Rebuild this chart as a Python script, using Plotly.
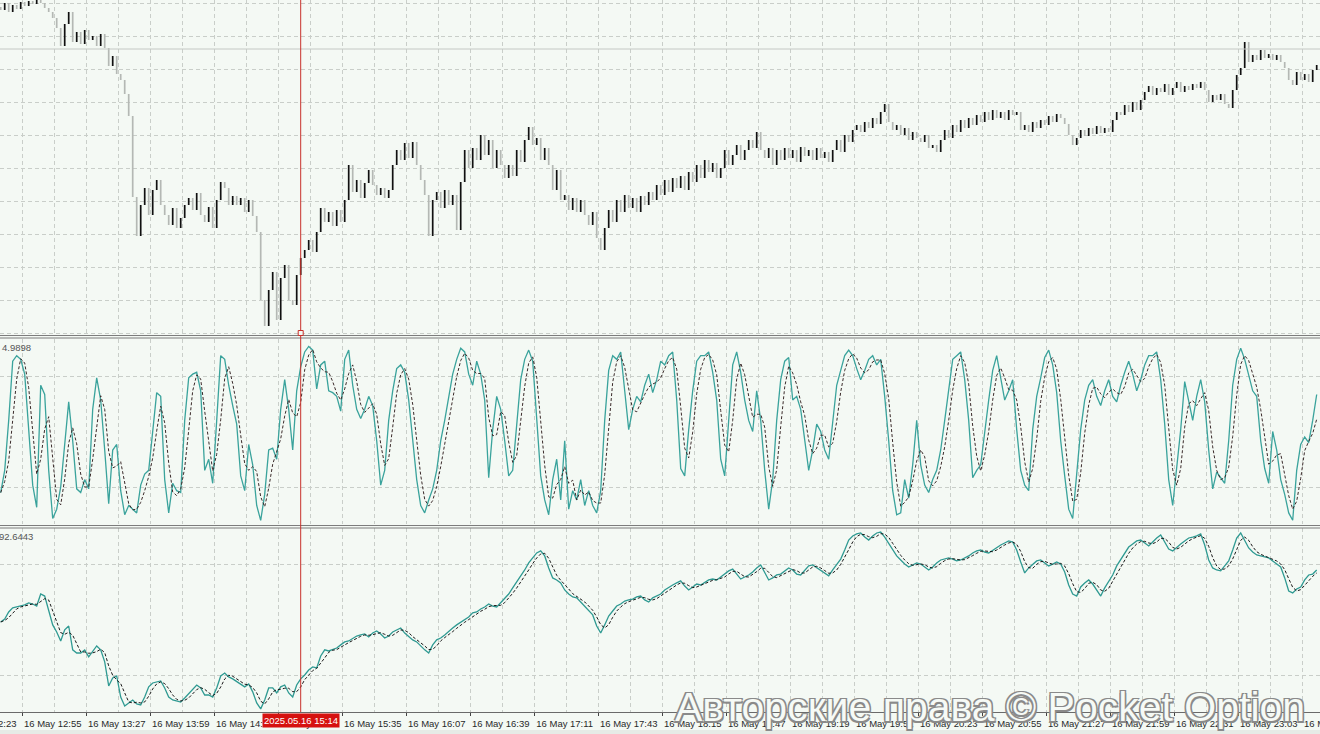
import pandas as pd
import plotly.graph_objects as go

# ---------------- data ----------------
# closes of 2-minute candles, in price points
close_pts = [
    330, 337, 328, 335, 331, 338, 334, 339, 336, 340, 337, 332,
    328, 322, 312, 294, 316, 328,
    298, 308, 296, 310, 300, 304, 294, 306,
    292, 274, 284, 266, 260, 246, 224,
    143, 104, 135,
    152, 125, 150, 160, 135,
    125, 115, 132, 112, 122, 135,
    142, 130, 147, 125, 118, 133, 112,
    140, 158, 152, 135,
    144, 135, 142, 128, 140, 124, 108,
    40,
    14, 50, 68, 20, 62, 75, 40, 35, 65, 82,
    90, 100, 88, 108, 132, 118, 128, 114, 130, 118,
    140, 175,
    148, 160, 142, 157,
    170,
    155, 145, 152, 142, 150,
    175, 190, 180, 197,
    182, 198,
    175, 160, 145,
    104, 140,
    148, 132, 150, 135, 145,
    110,
    158, 190,
    172, 192, 180,
    205,
    185, 200, 172, 190, 175,
    162, 175, 164,
    190, 178, 200,
    213,
    195, 202, 180, 192,
    175, 150, 170, 140,
    145, 130, 142, 128, 140, 125,
    115, 128, 102, 90,
    112, 130, 118, 140, 128,
    145, 132, 142, 128, 144, 135, 148, 140, 155, 145,
    160, 148, 162, 152, 164, 150, 168,
    158, 175, 162, 180, 168, 177, 162, 172,
    190, 175, 185, 195, 180, 190,
    200, 192, 208, 190,
    182, 192, 175, 190, 180, 192, 182,
    190, 178, 193, 184, 190, 180, 192, 182, 188, 178,
    190, 200, 188, 205, 198,
    210, 215, 208, 218, 212, 222, 216, 228, 236,
    218, 210, 215,
    205, 212, 200, 208, 202, 198, 205, 192,
    195, 188,
    200, 210, 202, 215, 208, 220, 212, 222,
    215, 225, 218, 228, 220, 230, 222, 228, 220, 230,
    225, 228,
    210, 215, 208, 218, 212,
    220, 215, 224, 218, 226, 222, 216,
    205, 195, 202,
    210, 204, 212, 206, 214, 207, 212, 208,
    220, 228,
    225, 235, 228, 238, 230, 240,
    248, 254, 245, 252,
    248, 256, 245, 252, 258, 248, 254, 250, 256, 252, 258,
    250, 238, 245, 240, 246, 236, 232,
    250, 265, 272,
    298,
    278, 285, 280, 290, 282, 286, 280, 285, 278,
    272, 260, 255,
    268, 260, 266, 258, 270, 275,
]
first_open = 333
price_line = 291

# stochastic (fast) %K, panel 2
stoch_k = [
    17, 29, 56, 88, 91, 89, 81, 51, 21, 9, 75, 70, 29, 3, 8, 20, 45, 66, 45, 19,
    17, 24, 19, 62, 79, 67, 40, 11, 40, 43, 18, 5, 10, 8, 6, 21, 27, 29, 51, 71,
    69, 24, 6, 22, 18, 17, 56, 79, 81, 82, 72, 29, 35, 22, 56, 91, 89, 75, 64, 54,
    26, 18, 43, 32, 10, 2, 16, 40, 41, 35, 62, 78, 62, 40, 72, 85, 93, 96, 94, 73,
    86, 88, 72, 71, 69, 61, 89, 94, 75, 62, 57, 62, 69, 64, 45, 21, 29, 56, 72, 84,
    86, 82, 67, 45, 24, 10, 6, 13, 19, 29, 45, 56, 69, 81, 89, 95, 93, 81, 75, 88,
    81, 67, 25, 51, 69, 62, 45, 26, 29, 56, 78, 89, 94, 88, 56, 26, 13, 5, 24, 35,
    13, 45, 8, 18, 13, 24, 10, 18, 10, 6, 18, 56, 83, 91, 89, 93, 72, 51, 62, 69,
    66, 75, 81, 71, 78, 88, 86, 91, 93, 67, 30, 26, 51, 72, 88, 91, 91, 93, 82, 67,
    35, 26, 56, 86, 93, 82, 67, 56, 50, 72, 56, 29, 8, 24, 56, 78, 88, 90, 67, 69,
    62, 45, 29, 40, 54, 50, 40, 35, 56, 75, 83, 91, 94, 91, 84, 78, 83, 89, 91, 86,
    89, 69, 45, 18, 5, 6, 24, 14, 32, 56, 32, 21, 17, 24, 29, 40, 56, 72, 89, 91,
    93, 78, 56, 25, 29, 32, 51, 67, 83, 91, 79, 67, 72, 78, 51, 29, 21, 18, 51, 69,
    79, 90, 94, 86, 71, 45, 26, 8, 3, 29, 51, 67, 75, 78, 69, 64, 72, 78, 69, 66,
    75, 82, 88, 81, 72, 78, 86, 91, 91, 93, 78, 54, 24, 10, 29, 51, 77, 67, 56, 69,
    78, 66, 40, 19, 28, 25, 22, 45, 75, 89, 95, 89, 81, 72, 69, 45, 30, 22, 50, 40,
    24, 16, 6, 2, 29, 43, 47, 44, 56, 70,
]
stoch_label = "4.9898"

# slow oscillator %K, panel 3
slow_k = [
    49.2, 50.8, 54.6, 56.8, 57.3, 57.8, 58.4, 59.5, 58.9, 57.8, 64.3, 63.2, 55.7, 47.6, 43.8, 38.9,
    44.9, 47.0, 34.1, 32.4, 32.4, 34.1, 30.3, 33.0, 36.2, 34.1, 27.6, 14.6, 18.9, 20.0, 8.6, 3.8,
    5.4, 7.0, 4.9, 4.3, 8.6, 14.1, 16.2, 16.8, 17.3, 13.5, 8.6, 7.0, 6.5, 5.9, 8.1, 10.3,
    12.4, 15.1, 13.5, 9.7, 9.7, 8.6, 13.5, 20.0, 21.6, 19.5, 18.4, 16.8, 15.7, 14.1, 15.7, 11.4,
    5.4, 2.2, 7.0, 13.5, 13.5, 10.8, 14.1, 15.1, 10.8, 8.6, 15.1, 18.4, 20.5, 23.2, 24.9, 24.3,
    30.8, 34.1, 33.5, 34.1, 35.1, 36.8, 38.4, 38.9, 40.5, 41.6, 42.2, 42.7, 41.1, 43.2, 44.3, 42.7,
    40.5, 41.6, 43.8, 44.9, 45.9, 43.2, 41.1, 39.5, 38.4, 36.2, 34.1, 32.4, 36.8, 39.5, 40.5, 42.2,
    43.8, 45.9, 47.6, 49.2, 50.3, 51.9, 54.1, 54.6, 56.2, 57.3, 58.9, 57.8, 57.3, 59.5, 62.2, 64.3,
    67.6, 70.8, 73.5, 77.3, 81.1, 83.8, 86.5, 87.6, 84.9, 78.4, 73.0, 71.9, 70.3, 66.5, 64.3, 62.7,
    62.2, 60.0, 57.8, 55.7, 53.0, 47.0, 43.2, 47.6, 52.4, 55.1, 57.8, 58.9, 60.5, 61.1, 61.6, 62.7,
    63.2, 61.1, 60.0, 62.2, 63.2, 64.3, 66.5, 68.1, 69.2, 70.3, 71.4, 68.6, 66.5, 68.1, 69.7, 69.2,
    70.8, 71.9, 72.4, 71.9, 73.5, 75.1, 76.8, 77.8, 75.1, 72.4, 73.5, 74.6, 76.2, 78.4, 80.0, 76.2,
    71.9, 73.0, 74.6, 75.1, 76.8, 78.4, 77.3, 75.1, 74.6, 77.3, 79.5, 80.0, 78.4, 76.8, 75.7, 74.1,
    77.3, 80.5, 83.2, 88.1, 93.5, 95.7, 96.8, 97.3, 95.1, 93.5, 95.7, 97.3, 97.8, 95.1, 91.9, 88.1,
    84.9, 82.7, 80.5, 78.9, 80.0, 81.1, 80.5, 78.9, 77.3, 78.9, 81.1, 82.7, 83.2, 83.8, 83.2, 82.2,
    82.7, 83.8, 84.9, 86.5, 87.6, 88.1, 87.0, 86.5, 88.1, 89.7, 90.8, 91.9, 93.0, 92.4, 88.1, 81.6,
    75.7, 78.4, 80.5, 82.2, 82.7, 81.1, 79.5, 80.5, 81.6, 80.5, 76.2, 69.2, 64.3, 63.2, 68.1, 70.3,
    71.9, 69.7, 66.5, 63.2, 67.6, 71.4, 74.6, 79.5, 82.7, 86.5, 89.7, 91.4, 93.0, 93.5, 91.9, 90.3,
    92.4, 94.6, 96.2, 92.4, 88.6, 87.6, 89.7, 91.4, 93.0, 94.6, 95.1, 95.7, 96.8, 90.8, 82.7, 78.4,
    77.3, 76.8, 79.5, 82.2, 88.1, 94.6, 97.3, 93.5, 89.2, 87.0, 85.4, 84.9, 84.3, 83.8, 82.2, 80.5,
    78.9, 73.0, 65.9, 64.9, 67.0, 68.1, 71.9, 74.6, 75.1, 77.3,
]
slow_label = "92.6443"

levels = [20, 80]
cursor_time = "2025-05-16 15:14"
cursor_label = "2025.05.16 15:14"
first_tick_label = "16 May 12:23"
watermark = "Авторские права © Pocket Option"
signal_period = 3

# ---------------- derived ----------------
t0 = pd.Timestamp("2025-05-16 12:44")
step = pd.Timedelta(minutes=2)
t_candles = [t0 + i * step for i in range(len(close_pts))]
opens = [first_open] + close_pts[:-1]
highs = [max(o, c) for o, c in zip(opens, close_pts)]
lows = [min(o, c) for o, c in zip(opens, close_pts)]

t_stoch = [t0 + i * step for i in range(len(stoch_k))]
t_slow = [t0 + i * step for i in range(len(slow_k))]
stoch_d = pd.Series(stoch_k).rolling(signal_period, min_periods=1).mean()
slow_d = pd.Series(slow_k).rolling(signal_period, min_periods=1).mean()

x_range = ["2025-05-16 12:43:39", "2025-05-16 23:43:39"]

BG = "#f4f9f4"
GRID = "#c9cec9"
TEAL = "#3aa39c"
FONT = "Liberation Sans"

fig = go.Figure()
fig.add_trace(go.Ohlc(
    x=t_candles, open=opens, high=highs, low=lows, close=close_pts,
    increasing=dict(line=dict(color="#101010", width=1.7)),
    decreasing=dict(line=dict(color="#b4b8b4", width=1.7)),
    tickwidth=0, xaxis="x", yaxis="y", hoverinfo="skip", showlegend=False,
))
fig.add_trace(go.Scatter(x=t_stoch, y=stoch_k, mode="lines",
                         line=dict(color=TEAL, width=1.3),
                         xaxis="x2", yaxis="y2", hoverinfo="skip", showlegend=False))
fig.add_trace(go.Scatter(x=t_stoch, y=stoch_d, mode="lines",
                         line=dict(color="#3a2a2a", width=1, dash="3px,2px"),
                         xaxis="x2", yaxis="y2", hoverinfo="skip", showlegend=False))
fig.add_trace(go.Scatter(x=t_slow, y=slow_k, mode="lines",
                         line=dict(color="#2f9a92", width=1.3),
                         xaxis="x3", yaxis="y3", hoverinfo="skip", showlegend=False))
fig.add_trace(go.Scatter(x=t_slow, y=slow_d, mode="lines",
                         line=dict(color="#1a1a1a", width=1, dash="3px,2px"),
                         xaxis="x3", yaxis="y3", hoverinfo="skip", showlegend=False))

H_PLOT = 712.0
def py(pix):
    return (H_PLOT - pix) / H_PLOT

xcommon = dict(
    range=x_range, type="date", showgrid=True, gridcolor=GRID, griddash="4px,3px",
    gridwidth=1, tick0="2025-05-16 12:55", dtick=32 * 60 * 1000,
    minor=dict(showgrid=True, gridcolor=GRID, griddash="4px,3px", dtick=16 * 60 * 1000,
               tick0="2025-05-16 12:55"),
    zeroline=False, fixedrange=True,
)
fig.update_layout(
    width=1320, height=734,
    margin=dict(l=0, r=0, t=0, b=22, autoexpand=False),
    paper_bgcolor=BG, plot_bgcolor=BG,
    font=dict(family=FONT, size=10, color="#333"),
    xaxis=dict(**xcommon, anchor="y", showticklabels=False, rangeslider=dict(visible=False)),
    xaxis2=dict(**xcommon, anchor="y2", showticklabels=False),
    xaxis3=dict(**xcommon, anchor="y3", showticklabels=True, tickformat="%d %b %H:%M",
                ticks="outside", ticklen=3, tickcolor="#444", showline=True,
                linecolor="#6a6a6a", linewidth=1, ticklabelshift=30,
                ticklabeloverflow="allow",
                tickfont=dict(family=FONT, size=9.5, color="#2a2a2a")),
    yaxis=dict(domain=[py(335), 1], range=[5, 340], anchor="x", showticklabels=False,
               showgrid=True, gridcolor=GRID, griddash="4px,3px", tick0=7, dtick=33,
               zeroline=False, fixedrange=True),
    yaxis2=dict(domain=[py(524), py(339)], range=[0, 100], anchor="x2", showticklabels=False,
                showgrid=True, gridcolor=GRID, griddash="4px,3px", tickvals=levels,
                zeroline=False, fixedrange=True),
    yaxis3=dict(domain=[0, py(528)], range=[0.5, 100], anchor="x3", showticklabels=False,
                showgrid=True, gridcolor=GRID, griddash="4px,3px", tickvals=levels,
                zeroline=False, fixedrange=True),
)

shapes = []
# panel separators (double lines)
for pix in (335.5, 338.0, 525.5, 528.0):
    shapes.append(dict(type="line", xref="paper", yref="paper", x0=0, x1=1,
                       y0=py(pix), y1=py(pix), line=dict(color="#7c7c7c", width=1)))
# light price line
shapes.append(dict(type="line", xref="paper", yref="y", x0=0, x1=1, y0=price_line,
                   y1=price_line, line=dict(color="#c4c8c4", width=1)))
# bottom strip
shapes.append(dict(type="rect", xref="paper", yref="paper", x0=0, x1=1, y0=py(734),
                   y1=py(730), fillcolor="#e6ebe6", line=dict(width=0), layer="below"))
# cursor line
shapes.append(dict(type="line", xref="x", yref="paper", x0=cursor_time, x1=cursor_time,
                   y0=0, y1=1, line=dict(color="#c8302a", width=1)))
shapes.append(dict(type="rect", xref="x", yref="paper", xsizemode="pixel", ysizemode="pixel",
                   xanchor=cursor_time, yanchor=py(333), x0=-2.5, x1=2.5, y0=-2.5, y1=2.5,
                   line=dict(color="#c8302a", width=1), fillcolor=BG))
fig.update_layout(shapes=shapes)

fig.add_annotation(text=stoch_label, xref="paper", yref="paper", x=0, y=py(347),
                   xanchor="left", yanchor="middle", showarrow=False,
                   font=dict(family=FONT, size=9.5, color="#555"))
fig.add_annotation(text=slow_label, xref="paper", yref="paper", x=0, y=py(536), xshift=-3,
                   xanchor="left", yanchor="middle", showarrow=False,
                   font=dict(family=FONT, size=9.5, color="#555"))
# partly hidden first time label at the left edge
fig.add_annotation(text=first_tick_label, xref="paper", yref="paper", x=0, y=py(723),
                   xanchor="right", yanchor="middle", xshift=19, showarrow=False,
                   font=dict(family=FONT, size=9.5, color="#2a2a2a"))
fig.add_annotation(text=cursor_label, xref="x3", yref="paper", x=cursor_time, y=py(720),
                   xanchor="center", yanchor="middle", showarrow=False,
                   bgcolor="#d6110f", borderpad=1,
                   font=dict(family=FONT, size=9.5, color="white"))
fig.add_annotation(text=watermark, xref="paper", yref="paper", x=990 / 1320, y=py(707),
                   xanchor="center", yanchor="middle", showarrow=False,
                   font=dict(family=FONT, size=41, color="#f6faf6",
                             shadow="1.5px 1.5px 0 #8a8a8a, -1.5px -1.5px 0 #8a8a8a, "
                                    "1.5px -1.5px 0 #8a8a8a, -1.5px 1.5px 0 #8a8a8a"))

fig.write_html("out.html", config={"displayModeBar": False},
               post_script="document.body.style.margin='0';"
               "document.body.style.overflow='hidden';")
